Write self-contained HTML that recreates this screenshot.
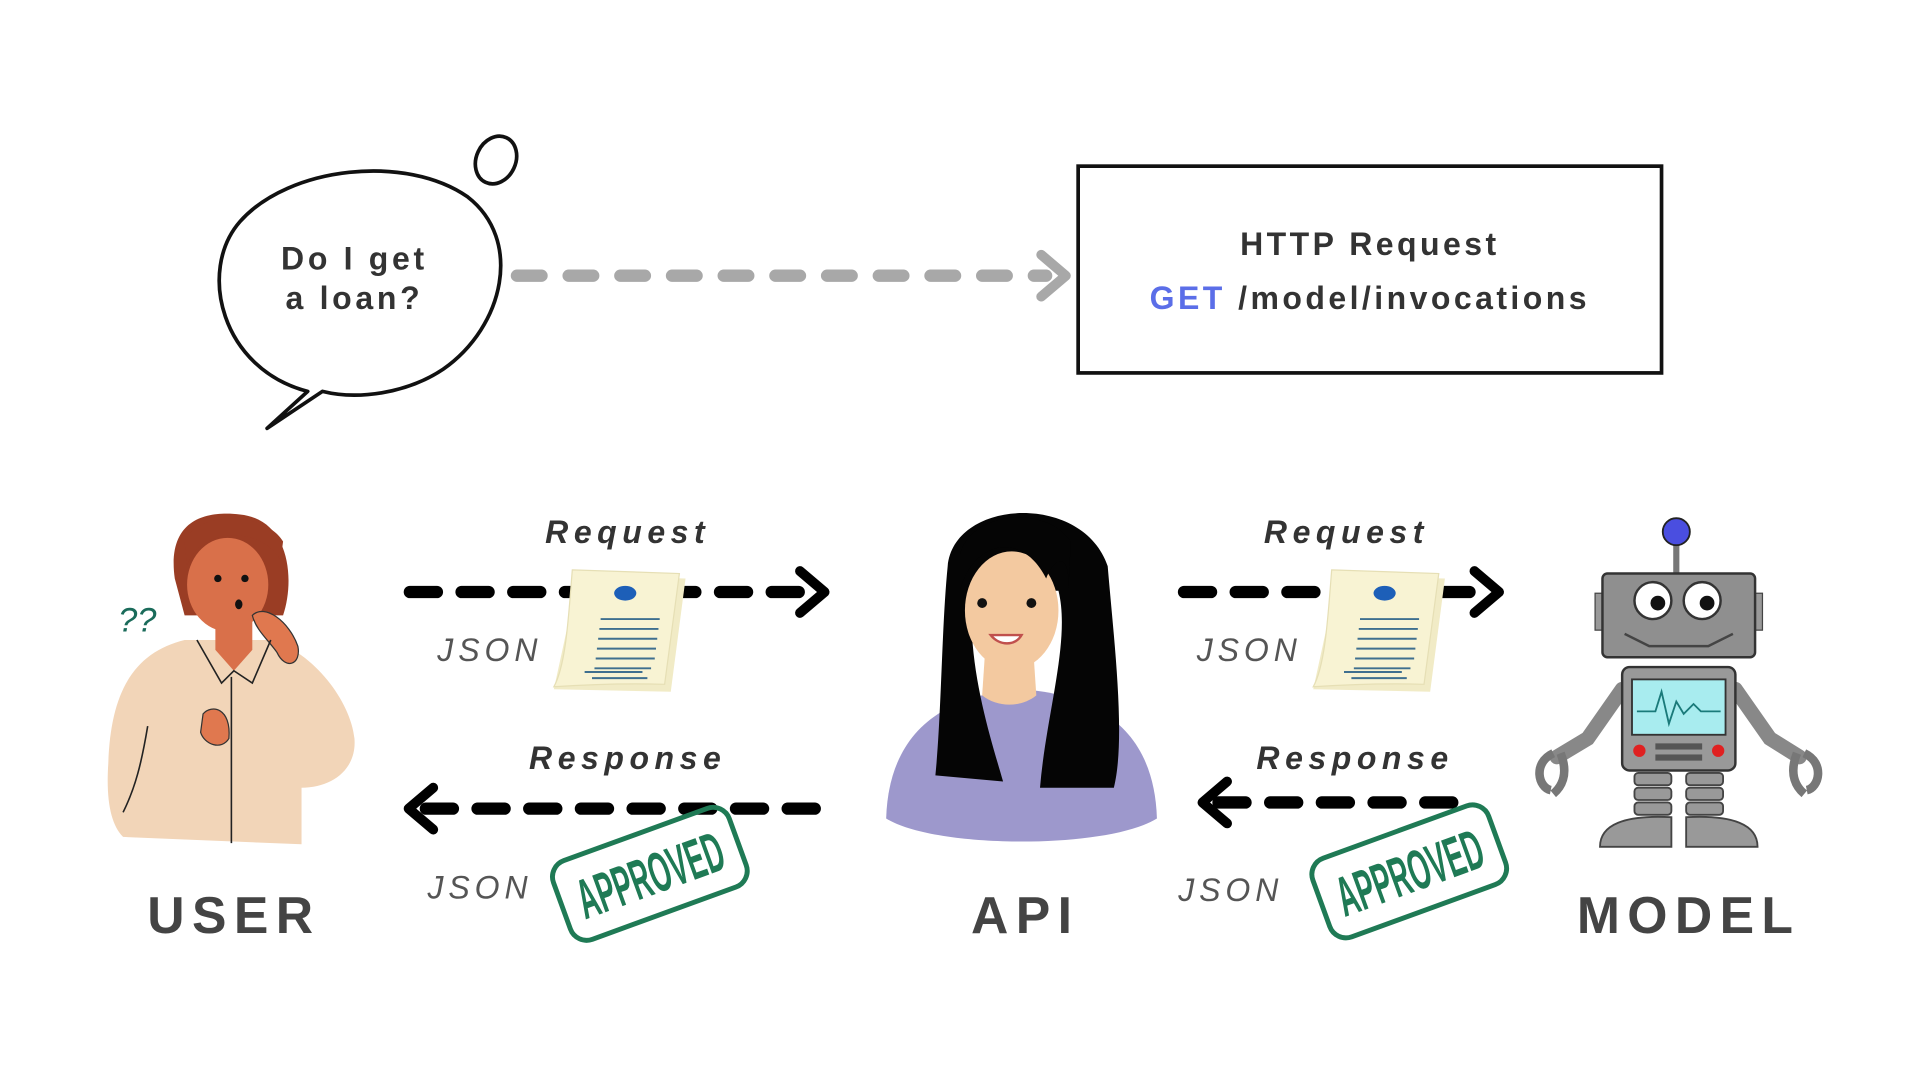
<!DOCTYPE html>
<html><head><meta charset="utf-8"><style>
html,body{margin:0;padding:0;background:#fff;width:1920px;height:1080px;overflow:hidden}
svg{display:block}
text{font-family:"Liberation Sans",sans-serif}
</style></head><body>
<svg width="1920" height="1080" viewBox="0 0 1560 877.5" xmlns="http://www.w3.org/2000/svg">
<rect width="1560" height="877.5" fill="#fff"/>
<!-- speech bubble -->
<path d="M250,318 C180,300 160,220 195,180 C235,135 330,125 380,160 C425,195 410,265 360,300 C330,320 290,325 262,318 L217,348 Z" fill="#fff" stroke="#111" stroke-width="3" stroke-linejoin="round"/>
<ellipse cx="403" cy="130" rx="16" ry="20" transform="rotate(25 403 130)" fill="#fff" stroke="#111" stroke-width="3"/>
<text x="288" y="219" text-anchor="middle" font-size="26" font-weight="bold" letter-spacing="3" fill="#333">Do I get</text>
<text x="288" y="251" text-anchor="middle" font-size="26" font-weight="bold" letter-spacing="3" fill="#333">a loan?</text>
<!-- gray arrow -->
<line x1="420" y1="224" x2="850" y2="224" stroke="#a8a8a8" stroke-width="10" stroke-linecap="round" stroke-dasharray="20 22"/>
<polyline points="846,207 866,224 846,241" fill="none" stroke="#a8a8a8" stroke-width="8" stroke-linecap="round" stroke-linejoin="round"/>
<!-- box -->
<rect x="876" y="135" width="474" height="168" fill="#fff" stroke="#111" stroke-width="3"/>
<text x="1113" y="207" text-anchor="middle" font-size="26" font-weight="bold" letter-spacing="2.8" fill="#333">HTTP Request</text>
<text x="1113" y="251" text-anchor="middle" font-size="26" font-weight="bold" letter-spacing="2.8" fill="#333"><tspan fill="#5b6ee8">GET</tspan> /model/invocations</text>
<!-- labels -->
<g font-size="26" font-weight="bold" font-style="italic" letter-spacing="4.5" fill="#333" text-anchor="middle">
<text x="510" y="441">Request</text>
<text x="1094" y="441">Request</text>
<text x="510" y="625">Response</text>
<text x="1101" y="625">Response</text>
</g>
<g font-size="26" font-style="italic" letter-spacing="4" fill="#555" text-anchor="middle">
<text x="398" y="537">JSON</text>
<text x="1015" y="537">JSON</text>
<text x="390" y="730">JSON</text>
<text x="1000" y="732">JSON</text>
</g>
<!-- black arrows -->
<g stroke="#000" stroke-width="10" stroke-linecap="round" fill="none" stroke-linejoin="round">
<line x1="333" y1="481" x2="665" y2="481" stroke-dasharray="22 20"/>
<polyline points="650,464 670,481 650,498" stroke-width="8"/>
<line x1="962" y1="481" x2="1212" y2="481" stroke-dasharray="22 20"/>
<polyline points="1198,464 1218,481 1198,498" stroke-width="8"/>
<line x1="346" y1="657" x2="672" y2="657" stroke-dasharray="22 20"/>
<polyline points="352,640 332,657 352,674" stroke-width="8"/>
<line x1="990" y1="652" x2="1188" y2="652" stroke-dasharray="22 20"/>
<polyline points="997,635 977,652 997,669" stroke-width="8"/>
</g>
<!-- documents -->
<g id="doc">
<path d="M470,468 L557,470 L545,562 L450,560 Z" fill="#f1ebc6"/>
<path d="M465,463 L552,466 L540,556 C510,555 480,556 450,558 C460,540 462,500 465,463 Z" fill="#f8f3d3" stroke="#e6dfb5" stroke-width="1"/>
<ellipse cx="508" cy="482" rx="9" ry="6" fill="#1d5fb8"/>
<g stroke="#3f6f8f" stroke-width="1.6">
<line x1="488" y1="503" x2="536" y2="503"/><line x1="487" y1="511" x2="535" y2="511"/><line x1="486" y1="519" x2="534" y2="519"/><line x1="485" y1="527" x2="533" y2="527"/><line x1="484" y1="535" x2="532" y2="535"/><line x1="483" y1="543" x2="529" y2="543"/><line x1="481" y1="551" x2="526" y2="551"/><line x1="475" y1="546" x2="522" y2="546"/>
</g>
</g>
<use href="#doc" transform="translate(617,0)"/>
<!-- stamps -->
<g transform="translate(528,710) rotate(-20)">
<rect x="-76" y="-34" width="152" height="68" rx="14" fill="none" stroke="#1f7a55" stroke-width="4"/>
<text x="-62" y="17" font-size="46" font-weight="bold" fill="#1f7a55" textLength="124" lengthAdjust="spacingAndGlyphs">APPROVED</text>
</g>
<g transform="translate(1145,708) rotate(-20)">
<rect x="-76" y="-34" width="152" height="68" rx="14" fill="none" stroke="#1f7a55" stroke-width="4"/>
<text x="-62" y="17" font-size="46" font-weight="bold" fill="#1f7a55" textLength="124" lengthAdjust="spacingAndGlyphs">APPROVED</text>
</g>
<!-- names -->
<g font-size="42" font-weight="bold" letter-spacing="6" fill="#444" text-anchor="middle">
<text x="190" y="758">USER</text>
<text x="833" y="758">API</text>
<text x="1372" y="758">MODEL</text>
</g>
<!-- user -->
<path d="M150,520 C110,530 90,560 88,620 C86,650 90,670 100,680 L245,686 L245,640 C270,640 290,625 288,600 C285,570 255,530 220,520 Z" fill="#f2d5b8"/>
<path d="M175,500 L205,500 L205,528 L190,545 L175,528 Z" fill="#d9704a"/>
<path d="M142,470 C135,420 170,415 195,418 C235,422 240,470 230,500 L150,500 Z" fill="#9a3d24"/>
<ellipse cx="185" cy="475" rx="33" ry="38" fill="#d9704a"/>
<path d="M152,460 C160,430 210,425 228,455 L230,440 C215,415 160,415 150,440 Z" fill="#9a3d24"/>
<circle cx="177" cy="470" r="3" fill="#111"/><circle cx="199" cy="470" r="3" fill="#111"/>
<ellipse cx="194" cy="491" rx="3" ry="4" fill="#111"/>
<path d="M205,500 C215,490 235,505 242,525 C245,540 232,545 225,530 C218,520 208,512 205,500 Z" fill="#e0784f" stroke="#333" stroke-width="1"/>
<path d="M165,580 C172,572 188,575 186,600 C180,610 166,605 163,595 Z" fill="#e0784f" stroke="#333" stroke-width="1"/>
<g stroke="#222" stroke-width="1.3" fill="none"><line x1="188" y1="550" x2="188" y2="685"/><path d="M160,520 L180,555 L190,545 L205,555 L220,520"/><path d="M120,590 C115,620 110,640 100,660"/></g>
<text x="96" y="513" font-size="28" fill="#1a6b5a" font-style="italic">??</text>
<!-- API woman -->
<path d="M720,665 C722,600 760,565 830,560 C900,565 938,600 940,665 C900,690 760,690 720,665 Z" fill="#9d98cc"/>
<path d="M800,535 L840,535 L842,565 C830,575 810,575 798,565 Z" fill="#f3c9a0"/>
<path d="M770,460 C775,405 880,400 900,460 C905,520 915,600 905,640 L845,640 C850,580 870,520 860,480 L790,480 C785,540 805,600 815,635 L760,630 C765,580 765,510 770,460 Z" fill="#050505"/>
<ellipse cx="822" cy="496" rx="38" ry="48" fill="#f3c9a0"/>
<path d="M780,480 C790,440 830,430 850,470 C858,450 870,450 868,480 L870,440 C850,410 790,415 780,450 Z" fill="#050505"/>
<circle cx="798" cy="490" r="4" fill="#111"/><circle cx="838" cy="490" r="4" fill="#111"/>
<path d="M805,516 C812,525 825,525 830,516 Z" fill="#fff" stroke="#c0504d" stroke-width="2"/>
<!-- robot -->
<line x1="1362" y1="440" x2="1362" y2="468" stroke="#777" stroke-width="5"/>
<circle cx="1362" cy="432" r="11" fill="#4a4ee0" stroke="#222" stroke-width="1.5"/>
<rect x="1296" y="482" width="12" height="30" fill="#999" stroke="#444"/>
<rect x="1420" y="482" width="12" height="30" fill="#999" stroke="#444"/>
<rect x="1302" y="466" width="124" height="68" rx="4" fill="#8f8f8f" stroke="#333" stroke-width="2"/>
<circle cx="1343" cy="488" r="15" fill="#fff" stroke="#333" stroke-width="2"/><circle cx="1347" cy="490" r="6" fill="#111"/>
<circle cx="1383" cy="488" r="15" fill="#fff" stroke="#333" stroke-width="2"/><circle cx="1387" cy="490" r="6" fill="#111"/>
<path d="M1320,515 L1340,525 L1388,525 L1408,515" fill="none" stroke="#444" stroke-width="2"/>
<path d="M1318,560 L1290,600 L1265,615" stroke="#888" stroke-width="12" fill="none" stroke-linecap="round"/>
<path d="M1410,560 L1438,600 L1462,615" stroke="#888" stroke-width="12" fill="none" stroke-linecap="round"/>
<path d="M1262,612 C1245,620 1250,640 1260,642 M1268,612 C1275,630 1268,640 1262,645" stroke="#777" stroke-width="7" fill="none"/>
<path d="M1466,612 C1483,620 1478,640 1468,642 M1460,612 C1453,630 1460,640 1466,645" stroke="#777" stroke-width="7" fill="none"/>
<rect x="1318" y="542" width="92" height="84" rx="6" fill="#999" stroke="#333" stroke-width="2"/>
<rect x="1326" y="552" width="76" height="45" fill="#a8ecef" stroke="#333" stroke-width="1.5"/>
<polyline points="1330,578 1345,578 1350,562 1356,588 1362,570 1368,580 1376,572 1382,578 1398,578" fill="none" stroke="#1a7a7a" stroke-width="1.5"/>
<circle cx="1332" cy="610" r="5" fill="#e02020"/><circle cx="1396" cy="610" r="5" fill="#e02020"/>
<rect x="1345" y="604" width="38" height="5" fill="#555"/><rect x="1345" y="613" width="38" height="5" fill="#555"/>
<g fill="#999" stroke="#444" stroke-width="1.5">
<rect x="1328" y="628" width="30" height="10" rx="3"/><rect x="1328" y="640" width="30" height="10" rx="3"/><rect x="1328" y="652" width="30" height="10" rx="3"/>
<rect x="1370" y="628" width="30" height="10" rx="3"/><rect x="1370" y="640" width="30" height="10" rx="3"/><rect x="1370" y="652" width="30" height="10" rx="3"/>
<path d="M1300,688 C1300,670 1320,662 1358,664 L1358,688 Z"/><path d="M1370,688 L1370,664 C1408,662 1428,670 1428,688 Z"/>
</g>
</svg>
</body></html>
